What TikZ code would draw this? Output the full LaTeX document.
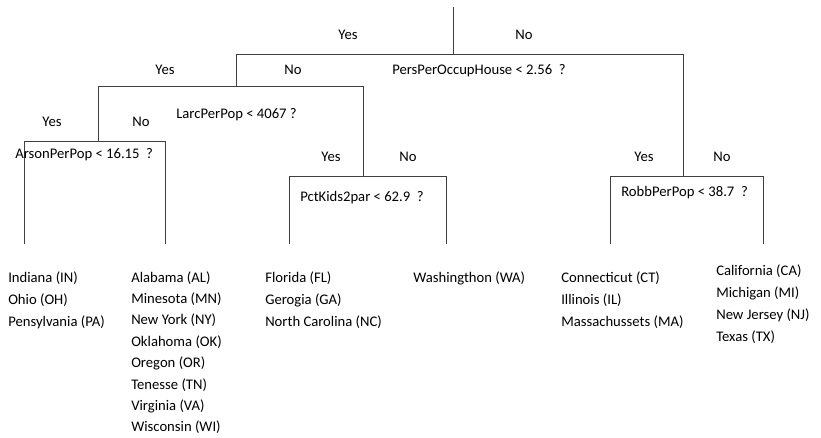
\documentclass[tikz,border=0pt]{standalone}
\usepackage{fontspec}
\setmainfont{Carlito}
\begin{document}
\begin{tikzpicture}[x=0.75pt,y=-0.75pt,
    branch/.style={line width=0.7pt, black!75},
    txt/.style={inner sep=0pt, font=\fontsize{11}{13}\selectfont},
    cond/.style={txt, anchor=base west},
    ans/.style={txt, anchor=base},
    leaf/.style={txt, anchor=base west}]
    \useasboundingbox (0,0) rectangle (821,437);

    % split points of the tree
    \coordinate (top) at (453,7);
    \coordinate (persL) at (236,54);  \coordinate (persR) at (683,54);
    \coordinate (larcL) at (98,86);   \coordinate (larcR) at (363,86);
    \coordinate (arsonL) at (24,141); \coordinate (arsonR) at (165,141);
    \coordinate (kidsL) at (289,176); \coordinate (kidsR) at (446,176);
    \coordinate (robbL) at (610,176); \coordinate (robbR) at (763,176);
    \coordinate (cut) at (0,244);

    \draw[branch] (top) -- (top |- persL);
    \draw[branch] (persL) -- (persR);
    \draw[branch] (persL) -- (persL |- larcL);
    \draw[branch] (larcL) -- (larcR);
    \draw[branch] (larcL) -- (larcL |- arsonL);
    \draw[branch] (larcR) -- (larcR |- kidsL);
    \draw[branch] (persR) -- (persR |- robbL);
    \draw[branch] (arsonL |- cut) -- (arsonL) -- (arsonR) -- (arsonR |- cut);
    \draw[branch] (kidsL |- cut) -- (kidsL) -- (kidsR) -- (kidsR |- cut);
    \draw[branch] (robbL |- cut) -- (robbL) -- (robbR) -- (robbR |- cut);

    % questions
    \node[cond] (pers) at (392,74) {PersPerOccupHouse < 2.56~~?};
    \node[cond] (larc) at (176,118) {LarcPerPop < 4067 ?};
    \node[cond] (arson) at (15,158) {ArsonPerPop < 16.15~~?};
    \node[cond] (kids) at (300,201) {PctKids2par < 62.9~~?};
    \node[cond] (robb) at (621,196) {RobbPerPop < 38.7~~?};

    % answers
    \node[ans] (persYes) at (348,39) {Yes};
    \node[ans] (persNo) at (524,39) {No};
    \node[ans] (larcYes) at (165,74) {Yes};
    \node[ans] (larcNo) at (293,74) {No};
    \node[ans] (arsonYes) at (52,126) {Yes};
    \node[ans] (arsonNo) at (141,126) {No};
    \node[ans] (kidsYes) at (331,161) {Yes};
    \node[ans] (kidsNo) at (408,161) {No};
    \node[ans] (robbYes) at (644,161) {Yes};
    \node[ans] (robbNo) at (722,161) {No};

    % states in each leaf
    \foreach \s [count=\i] in {Indiana (IN), Ohio (OH), Pensylvania (PA)}
        \node[leaf] (in\i) at (8,260+22*\i) {\s};
    \foreach \s [count=\i] in {Alabama (AL), Minesota (MN), New York (NY),
        Oklahoma (OK), Oregon (OR), Tenesse (TN), Virginia (VA), Wisconsin (WI)}
        \node[leaf] (al\i) at (131,260.6+21.4*\i) {\s};
    \foreach \s [count=\i] in {Florida (FL), Gerogia (GA), North Carolina (NC)}
        \node[leaf] (fl\i) at (265,260+22*\i) {\s};
    \node[leaf] (wa1) at (413,282) {Washingthon (WA)};
    \foreach \s [count=\i] in {Connecticut (CT), Illinois (IL), Massachussets (MA)}
        \node[leaf] (ct\i) at (561,260+22*\i) {\s};
    \foreach \s [count=\i] in {California (CA), Michigan (MI), New Jersey (NJ), Texas (TX)}
        \node[leaf] (ca\i) at (716,253+22*\i) {\s};
\end{tikzpicture}
\end{document}
